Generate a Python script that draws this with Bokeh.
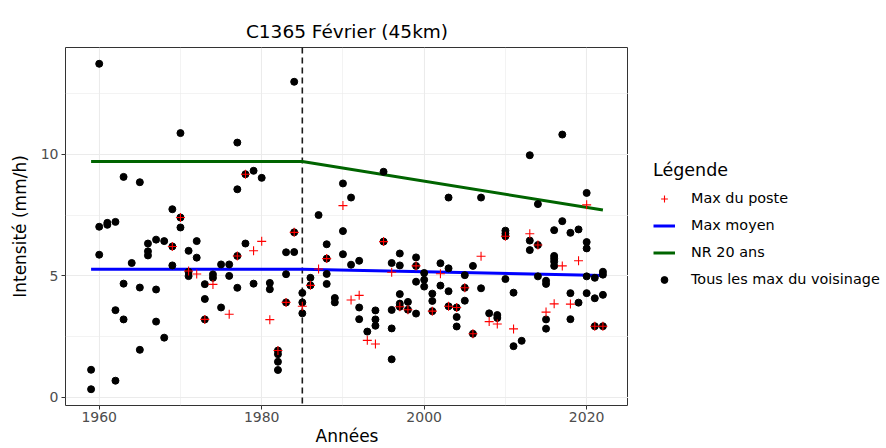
from bokeh.plotting import figure
from bokeh.layouts import row
from bokeh.models import (Range1d, FixedTicker, Span, Legend, LegendItem,
                          ColumnDataSource)
from bokeh.embed import file_html
from bokeh.resources import INLINE

# Maxima annuels de tous les postes du voisinage (45 km)
voisinage_annees = (
    [1959] * 2 + [1960] * 3 + [1961] * 2 + [1962] * 3 + [1963] * 3 + [1964] * 1
    + [1965] * 3 + [1966] * 3 + [1967] * 3 + [1968] * 2 + [1969] * 3 + [1970] * 3
    + [1971] * 3 + [1972] * 2 + [1973] * 3 + [1974] * 2 + [1975] * 2 + [1976] * 2
    + [1977] * 4 + [1978] * 2 + [1979] * 2 + [1980] * 1 + [1981] * 2 + [1982] * 4
    + [1983] * 3 + [1984] * 3 + [1985] * 3 + [1986] * 2 + [1987] * 1 + [1988] * 4
    + [1989] * 2 + [1990] * 3 + [1991] * 2 + [1992] * 3 + [1993] * 1 + [1994] * 3
    + [1995] * 2 + [1996] * 4 + [1997] * 5 + [1998] * 2 + [1999] * 4 + [2000] * 3
    + [2001] * 3 + [2002] * 2 + [2003] * 4 + [2004] * 3 + [2005] * 3 + [2006] * 2
    + [2007] * 2 + [2008] * 1 + [2009] * 2 + [2010] * 4 + [2011] * 2 + [2012] * 1
    + [2013] * 3 + [2014] * 3 + [2015] * 4 + [2016] * 5 + [2017] * 2 + [2018] * 3
    + [2019] * 2 + [2020] * 5 + [2021] * 3 + [2022] * 4
)
voisinage_valeurs = [
    1.14, 0.34,
    13.72, 7.02, 5.87,
    7.18, 7.10,
    7.22, 3.59, 0.69,
    9.07, 4.68, 3.21,
    5.53,
    8.85, 4.52, 1.96,
    6.33, 6.01, 5.84,
    6.49, 4.44, 3.12,
    6.43, 2.46,
    7.74, 6.21, 5.43,
    10.87, 7.40, 6.99,
    6.03, 5.17, 4.99,
    6.43, 5.75,
    4.66, 4.05, 3.21,
    5.06, 4.92,
    5.47, 3.70,
    5.47, 5.00,
    10.48, 8.56, 5.82, 4.51,
    9.18, 6.33,
    9.32, 4.68,
    9.03,
    4.71, 4.45,
    1.93, 1.78, 1.47, 1.13,
    5.97, 5.07, 3.91,
    12.98, 6.79, 5.98,
    4.30, 3.91, 3.46,
    4.92, 4.61,
    7.50,
    6.30, 5.71, 5.08, 4.67,
    4.09, 3.91,
    8.80, 6.84, 5.89,
    8.22, 5.46,
    5.62, 3.70, 3.22,
    2.71,
    3.58, 3.21, 2.95,
    9.28, 6.41,
    5.53, 3.60, 2.84, 1.57,
    5.92, 5.43, 4.25, 3.86, 3.73,
    3.93, 3.61,
    5.76, 5.41, 4.76, 3.45,
    5.12, 4.84, 4.56,
    4.27, 3.97, 3.55,
    5.52, 4.60,
    8.22, 5.31, 4.37, 3.75,
    3.70, 3.31, 2.92,
    5.03, 4.51, 3.98,
    5.41, 2.62,
    8.22, 4.49,
    3.46,
    3.39, 3.27,
    6.86, 6.74, 6.63, 4.87,
    4.31, 2.11,
    2.33,
    9.96, 6.45, 6.06,
    7.95, 6.27, 4.98,
    4.80, 4.67, 3.21, 2.83,
    6.88, 5.82, 5.71, 5.59, 5.41,
    10.81, 7.25,
    6.77, 4.29, 3.22,
    6.91, 3.90,
    8.41, 6.39, 6.13, 4.98, 4.29,
    4.92, 4.08, 2.93,
    5.17, 5.05, 4.22, 2.93,
]

# Maxima annuels du poste C1365
poste_annees = [
    1969, 1970, 1971, 1972, 1973, 1974, 1976, 1977, 1978, 1979, 1980, 1981,
    1982, 1983, 1984, 1985, 1986, 1987, 1988, 1990, 1991, 1992, 1993, 1994,
    1995, 1996, 1997, 1998, 1999, 2001, 2002, 2003, 2004, 2005, 2006, 2007,
    2008, 2009, 2010, 2011, 2013, 2014, 2015, 2016, 2017, 2018, 2019, 2020,
    2021, 2022,
]
poste_valeurs = [
    6.21, 7.40, 5.20, 5.08, 3.21, 4.65, 3.42, 5.82, 9.18, 6.03, 6.42, 3.20,
    1.93, 3.91, 6.79, 3.75, 4.61, 5.28, 5.71, 7.89, 4.01, 4.20, 2.35, 2.20,
    6.41, 5.15, 3.73, 3.61, 5.41, 3.55, 5.09, 3.75, 3.70, 4.51, 2.62, 5.81,
    3.12, 3.02, 6.63, 2.82, 6.73, 6.27, 3.51, 3.85, 5.41, 3.84, 5.62, 7.92,
    2.93, 2.93,
]

# Modèle non stationnaire : rupture en 1985
annee_rupture = 1985
moyen_annees = [1959, 1985, 2022]
moyen_valeurs = [5.27, 5.27, 5.02]
nr20_annees = [1959, 1985, 2022]
nr20_valeurs = [9.70, 9.70, 7.71]

ticks_x = [1960, 1980, 2000, 2020]
ticks_x_mineurs = [1970, 1990, 2010]
ticks_y = [0, 5, 10]
ticks_y_mineurs = [2.5, 7.5, 12.5]

FONT = "DejaVu Sans"
ROUGE, BLEU, VERT = "red", "blue", "#006400"

# Étendue des axes : plage des données + 5 % de chaque côté
x_min, x_max = min(voisinage_annees), max(voisinage_annees)
y_min, y_max = min(voisinage_valeurs), max(voisinage_valeurs)
dx, dy = 0.05 * (x_max - x_min), 0.05 * (y_max - y_min)

p = figure(
    width=628, height=448,
    x_range=Range1d(x_min - dx, x_max + dx),
    y_range=Range1d(y_min - dy, y_max + dy),
    output_backend="svg", toolbar_location=None,
    min_border_left=65, min_border_right=0,
    min_border_top=47, min_border_bottom=43,
)
p.background_fill_color = "white"
p.border_fill_color = "white"
p.outline_line_color = "#333333"
p.outline_line_width = 1

p.title.text = "C1365 Février (45km)"
p.title.align = "center"
p.title.text_font = FONT
p.title.text_font_size = "18.5px"
p.title.text_font_style = "normal"
p.title.text_color = "black"
p.title.standoff = 12

p.xaxis.ticker = FixedTicker(ticks=ticks_x, minor_ticks=ticks_x_mineurs)
p.yaxis.ticker = FixedTicker(ticks=ticks_y, minor_ticks=ticks_y_mineurs)
p.xaxis.axis_label = "Années"
p.yaxis.axis_label = "Intensité (mm/h)"
for ax in (p.xaxis, p.yaxis):
    ax.axis_line_color = None
    ax.major_tick_line_color = "#333333"
    ax.major_tick_out = 4
    ax.major_tick_in = 0
    ax.minor_tick_line_color = None
    ax.major_label_text_font = FONT
    ax.major_label_text_font_size = "14px"
    ax.major_label_text_color = "#4D4D4D"
    ax.axis_label_text_font = FONT
    ax.axis_label_text_font_size = "17px"
    ax.axis_label_text_font_style = "normal"
    ax.axis_label_text_color = "black"
p.xaxis.major_label_standoff = 2
p.xaxis.axis_label_standoff = 1
p.yaxis.major_label_standoff = 3
p.yaxis.axis_label_standoff = 8

for g in (p.xgrid, p.ygrid):
    g.grid_line_color = "#EBEBEB"
    g.grid_line_width = 1.1
    g.minor_grid_line_color = "#EBEBEB"
    g.minor_grid_line_width = 0.6
p.xgrid.ticker = p.xaxis.ticker
p.ygrid.ticker = p.yaxis.ticker

rupture = Span(location=annee_rupture, dimension="height", line_color="#1a1a1a",
               line_width=1.6, line_dash="6 4", level="underlay")
p.add_layout(rupture)

p.line(moyen_annees, moyen_valeurs, line_color=BLEU, line_width=3)
p.line(nr20_annees, nr20_valeurs, line_color=VERT, line_width=3)

src_voisinage = ColumnDataSource(dict(annee=voisinage_annees, valeur=voisinage_valeurs))
p.scatter("annee", "valeur", source=src_voisinage, marker="circle",
          size=7, fill_color="black", line_color="black")

src_poste = ColumnDataSource(dict(annee=poste_annees, valeur=poste_valeurs))
p.scatter("annee", "valeur", source=src_poste, marker="cross",
          size=9, line_color=ROUGE, line_width=1.1)

# Panneau de légende à droite du graphique ; les clés sont des glyphes
# placés hors de la zone visible, seule leur représentation en légende compte
lg = figure(
    width=258, height=448, output_backend="svg", toolbar_location=None,
    x_axis_type=None, y_axis_type=None, min_border=0,
    x_range=Range1d(0, 1), y_range=Range1d(0, 1),
)
lg.outline_line_color = None
lg.background_fill_color = "white"
lg.border_fill_color = "white"
lg.grid.visible = False

hors_champ = ColumnDataSource(dict(x=[-5, -4], y=[-5, -4]))
k_poste = lg.scatter("x", "y", source=hors_champ, marker="cross", size=8,
                     line_color=ROUGE, line_width=1.1)
k_moyen = lg.line("x", "y", source=hors_champ, line_color=BLEU, line_width=3)
k_nr20 = lg.line("x", "y", source=hors_champ, line_color=VERT, line_width=3)
k_voisinage = lg.scatter("x", "y", source=hors_champ, marker="circle", size=5.5,
                         fill_color="black", line_color="black")

legend = Legend(
    items=[
        LegendItem(label="Max du poste", renderers=[k_poste]),
        LegendItem(label="Max moyen", renderers=[k_moyen]),
        LegendItem(label="NR 20 ans", renderers=[k_nr20]),
        LegendItem(label="Tous les max du voisinage", renderers=[k_voisinage]),
    ],
    title="Légende",
    location=(25, 116),
    orientation="vertical",
)
legend.title_text_font = FONT
legend.title_text_font_size = "17.5px"
legend.title_text_font_style = "normal"
legend.title_text_color = "black"
legend.title_standoff = 8
legend.label_text_font = FONT
legend.label_text_font_size = "14.4px"
legend.label_text_color = "black"
legend.label_standoff = 16
legend.glyph_width = 22
legend.glyph_height = 17
legend.label_height = 20
legend.spacing = 7
legend.padding = 4
legend.margin = 0
legend.border_line_color = None
legend.background_fill_alpha = 0
lg.add_layout(legend)

layout = row(p, lg, spacing=0)
open("out.html", "w").write(file_html(layout, INLINE))
